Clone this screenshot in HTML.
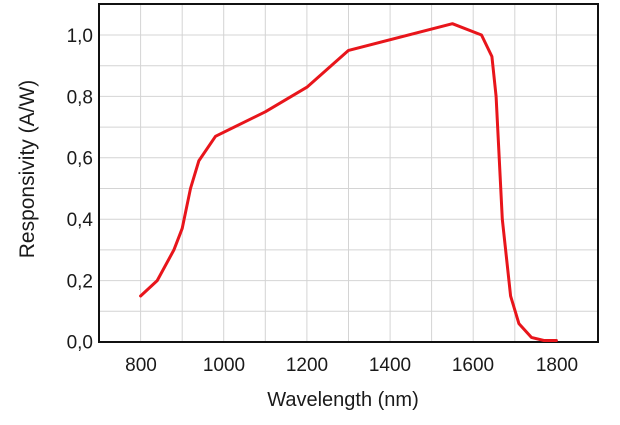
<!DOCTYPE html>
<html><head><meta charset="utf-8"><style>
html,body{margin:0;padding:0;background:#fff;}
svg{display:block;font-family:"Liberation Sans",sans-serif;}
</style></head><body>
<svg width="620" height="425" viewBox="0 0 620 425" xmlns="http://www.w3.org/2000/svg">
<g stroke="#d4d4d4" stroke-width="1">
<line x1="140.6" y1="4" x2="140.6" y2="342"/>
<line x1="182.2" y1="4" x2="182.2" y2="342"/>
<line x1="223.7" y1="4" x2="223.7" y2="342"/>
<line x1="265.3" y1="4" x2="265.3" y2="342"/>
<line x1="306.9" y1="4" x2="306.9" y2="342"/>
<line x1="348.5" y1="4" x2="348.5" y2="342"/>
<line x1="390.1" y1="4" x2="390.1" y2="342"/>
<line x1="431.6" y1="4" x2="431.6" y2="342"/>
<line x1="473.2" y1="4" x2="473.2" y2="342"/>
<line x1="514.8" y1="4" x2="514.8" y2="342"/>
<line x1="556.4" y1="4" x2="556.4" y2="342"/>
<line x1="99" y1="311.3" x2="598" y2="311.3"/>
<line x1="99" y1="280.6" x2="598" y2="280.6"/>
<line x1="99" y1="249.9" x2="598" y2="249.9"/>
<line x1="99" y1="219.2" x2="598" y2="219.2"/>
<line x1="99" y1="188.5" x2="598" y2="188.5"/>
<line x1="99" y1="157.8" x2="598" y2="157.8"/>
<line x1="99" y1="127.1" x2="598" y2="127.1"/>
<line x1="99" y1="96.4" x2="598" y2="96.4"/>
<line x1="99" y1="65.7" x2="598" y2="65.7"/>
<line x1="99" y1="35" x2="598" y2="35"/>
</g>
<rect x="99" y="4" width="499" height="338" fill="none" stroke="#111" stroke-width="2"/>
<polyline fill="none" stroke="#e8151b" stroke-width="3" stroke-linejoin="round" stroke-linecap="round"
points="140.6,296 157.2,280.6 173.9,249.9 182.2,228.4 190.5,188.5 198.8,160.9 215.5,136.3 265.3,111.8 306.9,87.2 348.5,50.4 452.4,23.7 481.5,35 491.9,56.5 496.1,96.4 502.3,219.2 510.6,296 518.9,323.6 531.4,337.4 543.9,340.5 556.4,340.5"/>
<g font-size="19" fill="#1a1a1a" text-anchor="end">
<text x="93" y="348.5">0,0</text>
<text x="93" y="287.5">0,2</text>
<text x="93" y="226">0,4</text>
<text x="93" y="164.5">0,6</text>
<text x="93" y="103.5">0,8</text>
<text x="93" y="42">1,0</text>
</g>
<g fill="#1a1a1a" text-anchor="middle">
<g font-size="19">
<text x="141" y="371">800</text>
<text x="224" y="371">1000</text>
<text x="307" y="371">1200</text>
<text x="390" y="371">1400</text>
<text x="473" y="371">1600</text>
<text x="557" y="371">1800</text>
</g>
<text x="343" y="406" font-size="20">Wavelength (nm)</text>
<text transform="translate(34,169) rotate(-90)" font-size="21">Responsivity (A/W)</text>
</g>
</svg>
</body></html>
